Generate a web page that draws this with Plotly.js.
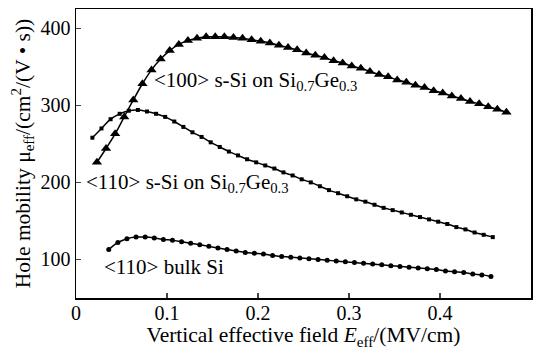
<!DOCTYPE html>
<html>
<head>
<meta charset="utf-8">
<script src="https://cdn.plot.ly/plotly-3.0.1.min.js"></script>
<style>html,body{margin:0;padding:0;background:#fff;}#chart{width:542px;height:353px;}</style>
</head>
<body>
<div id="chart"></div>
<script>
// <100> s-Si on Si0.7Ge0.3 (triangles)
const x100 = [0.023,0.033,0.043,0.053,0.063,0.073,0.083,0.093,0.103,0.113,0.123,0.133,0.143,0.153,0.163,0.173,0.183,0.193,0.203,0.213,0.223,0.233,0.243,0.253,0.263,0.273,0.283,0.293,0.303,0.313,0.323,0.333,0.343,0.353,0.363,0.373,0.383,0.393,0.403,0.413,0.423,0.433,0.443,0.453,0.463,0.473];
const y100 = [226,244,263,285,307,328,346,360,371,379,384,387,389,389,389,388,387,385,383,381,378,375,372,368,365,362,358,355,351,348,344,340,337,333,330,326,323,319,316,312,309,305,302,298,295,291];
// <110> s-Si on Si0.7Ge0.3 (squares)
const x110s = [0.018,0.028,0.038,0.048,0.058,0.068,0.078,0.088,0.098,0.108,0.118,0.128,0.138,0.148,0.158,0.168,0.178,0.188,0.198,0.208,0.218,0.228,0.238,0.248,0.258,0.268,0.278,0.288,0.298,0.308,0.318,0.328,0.338,0.348,0.358,0.368,0.378,0.388,0.398,0.408,0.418,0.428,0.438,0.448,0.458];
const y110s = [258,270,282,289,293,294,292,289,285,279,272,265,259,252,246,240,235,230,226,222,218,213,209,204,200,195,190,186,182,178,175,171,167,164,161,158,155,152,149,146,142,139,135,132,129];
// <110> bulk Si (circles)
const xBulk = [0.036,0.046,0.056,0.066,0.076,0.086,0.096,0.106,0.116,0.126,0.136,0.146,0.156,0.166,0.176,0.186,0.196,0.206,0.216,0.226,0.236,0.246,0.256,0.266,0.276,0.286,0.296,0.306,0.316,0.326,0.336,0.346,0.356,0.366,0.376,0.386,0.396,0.406,0.416,0.426,0.436,0.446,0.456];
const yBulk = [113,122,127,129,129,128,126,125,123,121,119,117,115,113,111,109,108,107,105,104,103,102,101,100,99,98,97,96,95,94,93,92,91,90,89,88,87,85,84,83,81,80,78];

const xTicks = [0,0.1,0.2,0.3,0.4,0.5];
const xTickText = ['0','0.1','0.2','0.3','0.4','0.5'];
const yTicks = [100,200,300,400];

const FONT = '"Liberation Serif", "Times New Roman", serif';

const traces = [
  {x:x100, y:y100, mode:'lines+markers', line:{color:'#000', width:1.5, shape:'spline'},
   marker:{symbol:'triangle-up', size:9, color:'#000'}, cliponaxis:false},
  {x:x110s, y:y110s, mode:'lines+markers', line:{color:'#000', width:1.5, shape:'spline'},
   marker:{symbol:'square', size:4, color:'#000'}, cliponaxis:false},
  {x:xBulk, y:yBulk, mode:'lines+markers', line:{color:'#000', width:1.5, shape:'spline'},
   marker:{symbol:'circle', size:5, color:'#000'}, cliponaxis:false}
];

const layout = {
  width:542, height:353,
  margin:{l:76, r:11, t:9, b:55},
  paper_bgcolor:'#fff', plot_bgcolor:'#fff',
  showlegend:false,
  font:{family:FONT, size:20, color:'#000'},
  xaxis:{range:[0,0.5], tickvals:xTicks, ticktext:xTickText, ticks:'inside', ticklen:5, tickwidth:1.2,
    showline:true, linewidth:1.5, linecolor:'#000', mirror:true, showgrid:false, zeroline:false,
    ticklabelstandoff:-4,
    tickfont:{family:FONT, size:20, color:'#000'},
    title:{text:'Vertical effective field <i>E</i><sub>eff</sub>/(MV/cm)', font:{family:FONT, size:21.5, color:'#000'}, standoff:0}},
  yaxis:{range:[50,425], tickvals:yTicks, ticks:'inside', ticklen:5, tickwidth:1.2,
    showline:true, linewidth:1.5, linecolor:'#000', mirror:true, showgrid:false, zeroline:false,
    tickfont:{family:FONT, size:20, color:'#000'},
    title:{text:'Hole mobility μ<sub>eff</sub>/(cm<sup>2</sup>/(V • s))', font:{family:FONT, size:21.5, color:'#000'}, standoff:4}},
  annotations:[
    {x:0.084, y:331, xref:'x', yref:'y', xanchor:'left', yanchor:'middle', showarrow:false,
     text:'<100> s-Si on Si<sub>0.7</sub>Ge<sub>0.3</sub>', font:{family:FONT, size:21, color:'#000'}},
    {x:0.009, y:199, xref:'x', yref:'y', xanchor:'left', yanchor:'middle', showarrow:false,
     text:'<110> s-Si on Si<sub>0.7</sub>Ge<sub>0.3</sub>', font:{family:FONT, size:21, color:'#000'}},
    {x:0.029, y:90, xref:'x', yref:'y', xanchor:'left', yanchor:'middle', showarrow:false,
     text:'<110> bulk Si', font:{family:FONT, size:21, color:'#000'}}
  ]
};

Plotly.newPlot('chart', traces, layout, {displayModeBar:false, staticPlot:true});
</script>
</body>
</html>
